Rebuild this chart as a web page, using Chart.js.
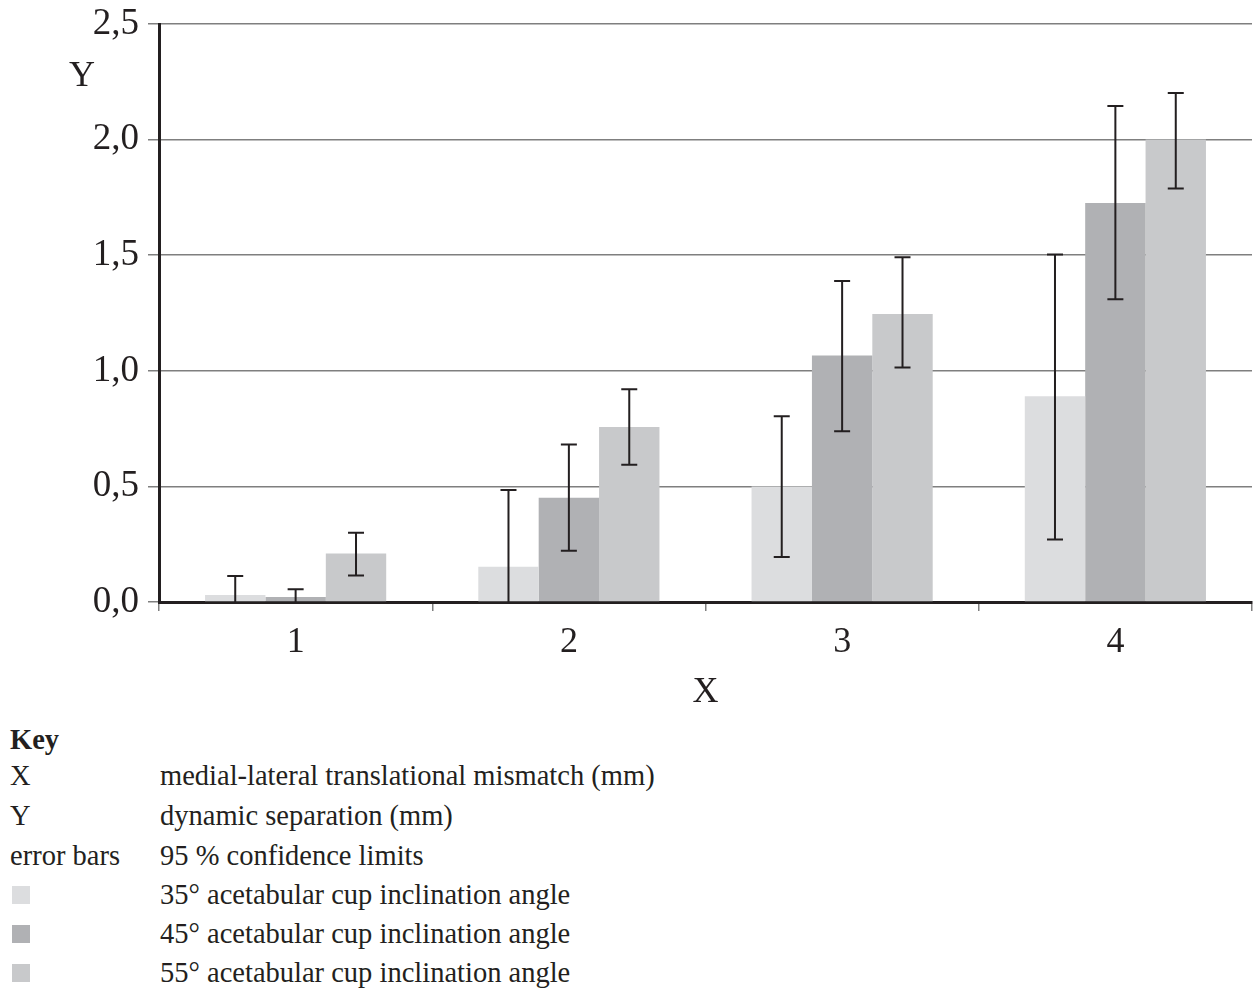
<!DOCTYPE html>
<html>
<head>
<meta charset="utf-8">
<script src="https://cdn.jsdelivr.net/npm/chart.js@4/dist/chart.umd.min.js"></script>
<style>
  html, body { margin:0; padding:0; background:#fff; }
  body { width:1255px; height:992px; position:relative; overflow:hidden; font-family:"Liberation Serif", serif; color:#231f20; }
  #wrap { position:absolute; left:0; top:0; width:1255px; height:720px; }
  .key { position:absolute; font-size:28.5px; line-height:32px; white-space:nowrap; }
  .sw { position:absolute; width:18px; height:18px; }
</style>
</head>
<body>
<div id="wrap"><canvas id="c"></canvas></div>
<div class="key" style="left:10px; top:724px; font-weight:bold;">Key</div>
<div class="key" style="left:10px; top:760px;">X</div>
<div class="key" style="left:160px; top:760px;">medial-lateral translational mismatch (mm)</div>
<div class="key" style="left:10px; top:800px;">Y</div>
<div class="key" style="left:160px; top:800px;">dynamic separation (mm)</div>
<div class="key" style="left:10px; top:840px;">error bars</div>
<div class="key" style="left:160px; top:840px;">95 % confidence limits</div>
<div class="sw" style="left:12px; top:886px; background:#dcdddf;"></div>
<div class="key" style="left:160px; top:879px;">35° acetabular cup inclination angle</div>
<div class="sw" style="left:12px; top:925px; background:#b0b1b4;"></div>
<div class="key" style="left:160px; top:918px;">45° acetabular cup inclination angle</div>
<div class="sw" style="left:12px; top:964px; background:#c8c9cb;"></div>
<div class="key" style="left:160px; top:957px;">55° acetabular cup inclination angle</div>
<script>
const categories = ["1", "2", "3", "4"];
const seriesNames = ["35° acetabular cup inclination angle", "45° acetabular cup inclination angle", "55° acetabular cup inclination angle"];
const values35 = [0.03, 0.153, 0.50, 0.89];
const values45 = [0.022, 0.451, 1.066, 1.726];
const values55 = [0.21, 0.757, 1.246, 2.0];
const upper35 = [0.112, 0.484, 0.803, 1.503];
const lower35 = [-0.052, -0.178, 0.195, 0.27];
const upper45 = [0.055, 0.681, 1.388, 2.145];
const lower45 = [-0.011, 0.222, 0.738, 1.309];
const upper55 = [0.30, 0.920, 1.491, 2.202];
const lower55 = [0.115, 0.594, 1.014, 1.789];
const yTicks = [0, 0.5, 1.0, 1.5, 2.0, 2.5];

const errUpper = [upper35, upper45, upper55];
const errLower = [lower35, lower45, lower55];
const colors = ["#dcdddf", "#b0b1b4", "#c8c9cb"];
const FONT = "'Liberation Serif', serif";
const INK = "#231f20";

const errorBars = {
  id: "errorBars",
  afterDatasetsDraw(chart) {
    const ctx = chart.ctx, y = chart.scales.y, a = chart.chartArea;
    ctx.save();
    ctx.beginPath();
    ctx.rect(a.left, a.top - 20, a.right - a.left, a.bottom - a.top + 20);
    ctx.clip();
    ctx.strokeStyle = INK;
    ctx.lineWidth = 2;
    chart.data.datasets.forEach((ds, i) => {
      const meta = chart.getDatasetMeta(i);
      meta.data.forEach((bar, j) => {
        const x = bar.x;
        const yh = y.getPixelForValue(errUpper[i][j]);
        const yl = y.getPixelForValue(errLower[i][j]);
        const cap = 8;
        ctx.beginPath();
        ctx.moveTo(x, yh); ctx.lineTo(x, Math.min(yl, a.bottom));
        ctx.moveTo(x - cap, yh); ctx.lineTo(x + cap, yh);
        if (yl <= a.bottom) { ctx.moveTo(x - cap, yl); ctx.lineTo(x + cap, yl); }
        ctx.stroke();
      });
    });
    ctx.restore();
  }
};

const yTitle = {
  id: "yTitle",
  afterDraw(chart) {
    const ctx = chart.ctx;
    ctx.save();
    ctx.font = "36px " + FONT;
    ctx.fillStyle = INK;
    ctx.textAlign = "center";
    ctx.textBaseline = "middle";
    ctx.fillText("Y", 82, 77);
    ctx.restore();
  }
};

new Chart(document.getElementById("c"), {
  type: "bar",
  data: {
    labels: categories,
    datasets: [
      { label: seriesNames[0], data: values35, backgroundColor: colors[0] },
      { label: seriesNames[1], data: values45, backgroundColor: colors[1] },
      { label: seriesNames[2], data: values55, backgroundColor: colors[2] }
    ]
  },
  options: {
    responsive: true,
    maintainAspectRatio: false,
    animation: false,
    layout: { padding: { top: 24, right: 3, left: 0, bottom: 0 } },
    plugins: { legend: { display: false }, tooltip: { enabled: false } },
    datasets: { bar: { categoryPercentage: 0.663, barPercentage: 1.0, borderWidth: 0 } },
    scales: {
      x: {
        grid: { offset: true, drawOnChartArea: false, drawTicks: true, tickLength: 9, tickColor: "#7f7f7f", lineWidth: 1.5 },
        border: { color: INK, width: 3 },
        ticks: { font: { size: 36, family: FONT }, color: INK, padding: 10 },
        title: { display: true, text: "X", font: { size: 36, family: FONT }, color: INK, padding: { top: 0, bottom: 6 } },
        afterFit(s) { s.height = 118; s.paddingLeft = 0; s.paddingRight = 0; }
      },
      y: {
        min: 0, max: 2.5,
        afterBuildTicks(s) { s.ticks = yTicks.map(v => ({ value: v })); },
        grid: { color: "#7f7f7f", lineWidth: 1.5, tickLength: 11, tickColor: "#7f7f7f" },
        border: { color: INK, width: 3 },
        ticks: { font: { size: 37, family: FONT }, color: INK, padding: 9,
                 callback: v => v.toFixed(1).replace(".", ",") },
        afterFit(s) { s.width = 159; s.paddingTop = 0; s.paddingBottom = 0; }
      }
    }
  },
  plugins: [errorBars, yTitle]
});
</script>
</body>
</html>
